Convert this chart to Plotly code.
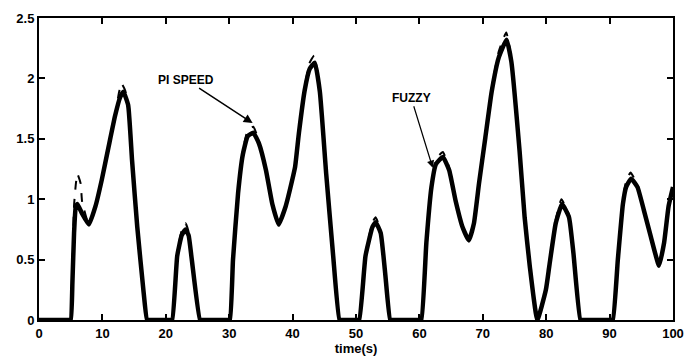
import plotly.graph_objects as go

# Speed response, fuzzy controller (solid)
fuzzy_t = [0, 4.6, 5.0, 5.27, 5.53, 5.8, 6.05, 6.8, 7.86, 8.9, 9.9, 10.96, 12.0, 12.77, 13.3,
           14.06, 14.68, 15.5, 16.5, 17.05, 17.5,
           20.6, 21.0, 21.8, 22.5, 23.1, 23.6, 24.1, 25.4, 25.8,
           29.7, 30.1, 30.6, 31.4, 32.15, 32.9, 33.8, 34.7, 35.8, 36.8, 37.8, 38.9, 39.9, 40.4,
           41.0, 41.9, 42.7, 43.5, 44.3, 45.3, 46.4, 47.4, 47.8,
           50.1, 50.5, 51.5, 52.6, 53.1, 53.9, 54.6, 55.4, 55.8,
           59.9, 60.3, 61.1, 61.9, 62.6, 63.7, 64.7, 65.7, 66.8, 67.8, 68.6, 69.4, 70.4, 71.4,
           72.5, 73.75, 74.5, 75.8, 76.6, 77.4, 78.6, 79.95, 80.5, 81.5, 82.5, 83.6, 84.3,
           85.4, 85.8,
           90.1, 90.5, 91.3, 92.1, 92.6, 93.4, 94.4, 95.4, 96.5, 97.8, 98.6, 99.3, 100]
fuzzy_v = [0, 0, 0, 0.31, 0.72, 0.94, 0.96, 0.88, 0.79, 0.94, 1.16, 1.43, 1.69, 1.84, 1.89,
           1.78, 1.32, 0.77, 0.23, 0, 0,
           0, 0, 0.53, 0.7, 0.75, 0.7, 0.5, 0, 0,
           0, 0, 0.5, 1.05, 1.37, 1.52, 1.55, 1.46, 1.24, 0.96, 0.79, 0.94, 1.15, 1.27,
           1.55, 1.9, 2.08, 2.13, 1.89, 1.21, 0.53, 0, 0,
           0, 0, 0.53, 0.77, 0.81, 0.72, 0.39, 0, 0,
           0, 0, 0.64, 1.1, 1.29, 1.35, 1.24, 0.99, 0.77, 0.66, 0.8, 1.13, 1.51, 1.89,
           2.17, 2.32, 2.14, 1.4, 0.85, 0.45, 0, 0.25, 0.45, 0.8, 0.96, 0.85, 0.55,
           0, 0,
           0, 0, 0.5, 0.96, 1.1, 1.17, 1.1, 0.91, 0.69, 0.45, 0.64, 0.94, 1.1]

# Speed response, PI controller (dashed)
pi_t = [0, 4.6, 5.0, 5.27, 5.53, 5.8, 6.05, 6.57, 6.8, 7.86, 8.9, 9.9, 10.96, 12.0, 12.6,
        13.0, 13.6, 14.06, 14.68, 15.5, 16.5, 17.05, 17.5,
        20.6, 21.0, 21.8, 22.5, 23.1, 23.6, 24.1, 25.4, 25.8,
        29.7, 30.1, 30.6, 31.4, 32.15, 32.9, 33.8, 34.7, 35.8, 36.8, 37.8, 38.9, 39.9, 40.4,
        41.0, 41.9, 42.7, 43.4, 44.3, 45.3, 46.4, 47.4, 47.8,
        50.1, 50.5, 51.5, 52.6, 53.1, 53.9, 54.6, 55.4, 55.8,
        59.9, 60.3, 61.1, 61.9, 62.6, 63.7, 64.7, 65.7, 66.8, 67.8, 68.6, 69.4, 70.4, 71.4,
        72.5, 73.7, 74.5, 75.8, 76.6, 77.4, 78.6, 79.95, 80.5, 81.5, 82.4, 83.6, 84.3,
        85.4, 85.8,
        90.1, 90.5, 91.3, 92.1, 92.6, 93.3, 94.4, 95.4, 96.5, 97.8, 98.6, 99.3, 100]
pi_v = [0, 0, 0, 0.45, 0.95, 1.12, 1.21, 1.13, 0.98, 0.79, 0.94, 1.16, 1.43, 1.69, 1.88,
        1.96, 1.9, 1.78, 1.32, 0.77, 0.23, 0, 0,
        0, 0, 0.55, 0.74, 0.8, 0.73, 0.5, 0, 0,
        0, 0, 0.5, 1.05, 1.4, 1.57, 1.6, 1.48, 1.24, 0.96, 0.78, 0.94, 1.15, 1.27,
        1.57, 1.93, 2.13, 2.19, 1.9, 1.21, 0.53, 0, 0,
        0, 0, 0.55, 0.81, 0.85, 0.74, 0.39, 0, 0,
        0, 0, 0.64, 1.12, 1.33, 1.39, 1.26, 0.99, 0.77, 0.65, 0.8, 1.13, 1.52, 1.92,
        2.22, 2.38, 2.16, 1.4, 0.85, 0.45, 0, 0.25, 0.46, 0.83, 1.0, 0.87, 0.55,
        0, 0,
        0, 0, 0.52, 1.0, 1.15, 1.22, 1.12, 0.92, 0.69, 0.44, 0.64, 0.94, 1.1]

x_ticks = [0, 10, 20, 30, 40, 50, 60, 70, 80, 90, 100]
y_ticks = [0, 0.5, 1, 1.5, 2, 2.5]
y_tick_text = ["0", "0.5", "1", "1.5", "2", "2.5"]

FONT = "Liberation Sans Narrow, Liberation Sans, Arial, sans-serif"

fig = go.Figure()
fig.add_trace(go.Scatter(
    x=pi_t, y=pi_v, mode="lines", name="PI SPEED",
    line=dict(color="black", width=2, dash="dash", shape="spline", smoothing=0.4),
))
fig.add_trace(go.Scatter(
    x=fuzzy_t, y=fuzzy_v, mode="lines", name="FUZZY",
    line=dict(color="black", width=4.5, shape="spline", smoothing=0.4),
))

axis_common = dict(
    showgrid=False, zeroline=False, showline=True, linecolor="black", linewidth=2,
    mirror="ticks", ticks="inside", ticklen=6, tickwidth=1.5, tickcolor="black",
    tickfont=dict(family=FONT, size=13, color="black", weight="bold"),
)
fig.update_xaxes(range=[0, 100], tickvals=x_ticks, **axis_common,
                 title=dict(text="time(s)",
                            font=dict(family=FONT, size=13, color="black", weight="bold"),
                            standoff=2))
fig.update_yaxes(range=[0, 2.5], tickvals=y_ticks, ticktext=y_tick_text, **axis_common)

fig.add_annotation(x=33.7, y=1.63, ax=23.2, ay=1.99, axref="x", ayref="y",
                   text="PI SPEED", showarrow=True, arrowhead=2, arrowsize=1.2,
                   arrowwidth=1.5, arrowcolor="black",
                   font=dict(family=FONT, size=12, color="black", weight="bold"))
fig.add_annotation(x=62.1, y=1.26, ax=58.7, ay=1.84, axref="x", ayref="y",
                   text="FUZZY", showarrow=True, arrowhead=2, arrowsize=1.2,
                   arrowwidth=1.2, arrowcolor="black",
                   font=dict(family=FONT, size=12, color="black", weight="bold"))

fig.update_layout(
    width=695, height=363, showlegend=False,
    margin=dict(l=39, r=11, t=16, b=42),
    paper_bgcolor="white", plot_bgcolor="white",
)

fig.write_html("out.html")
